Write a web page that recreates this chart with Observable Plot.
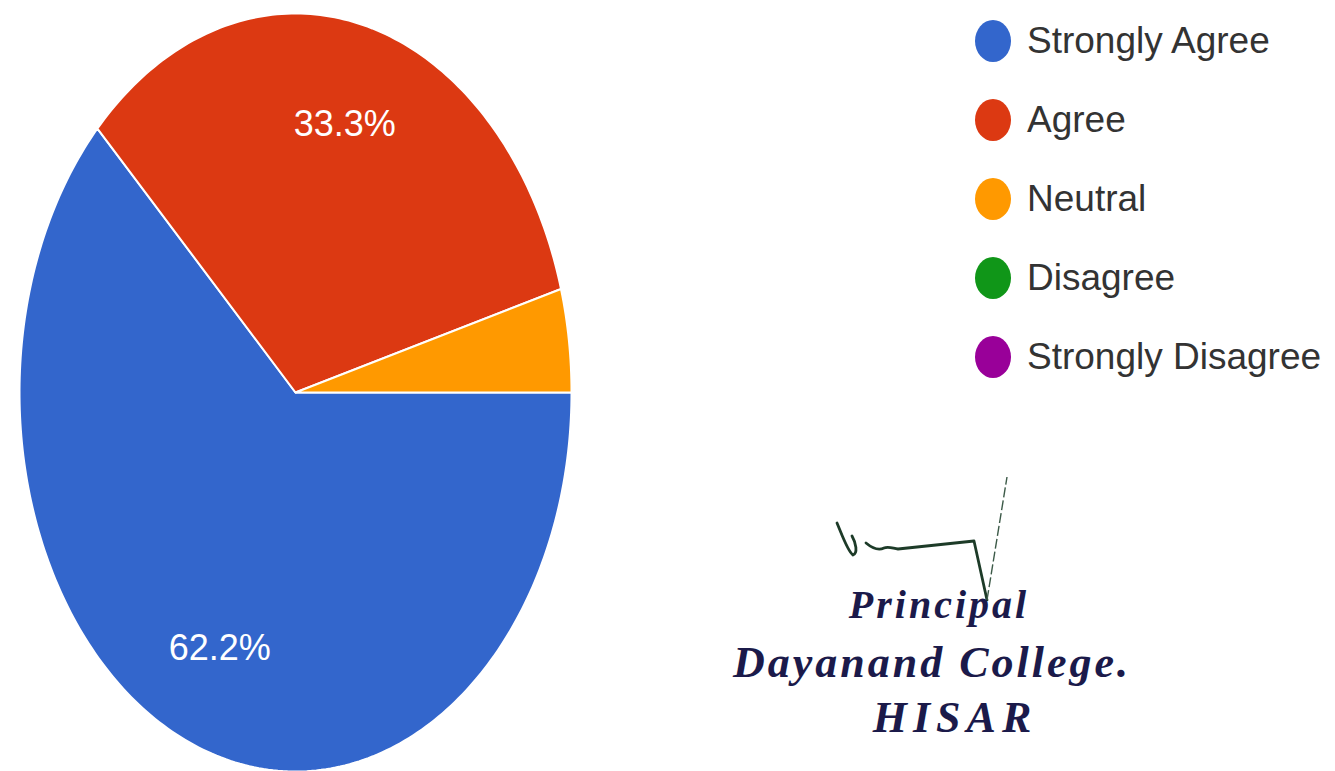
<!DOCTYPE html>
<html><head><meta charset="utf-8">
<script src="https://cdn.jsdelivr.net/npm/d3@7"></script>
<script src="https://cdn.jsdelivr.net/npm/@observablehq/plot@0.6"></script>
<style>
html,body{margin:0;padding:0;background:#fff;}
#wrap{position:relative;width:1335px;height:771px;overflow:hidden;background:#fff;}
#chart{position:absolute;left:0;top:0;}
.item{position:absolute;left:975px;display:flex;align-items:center;height:50px;}
.sw{width:36px;height:42px;border-radius:50%;flex:none;}
.lab{margin-left:16px;font-family:"Liberation Sans",Arial,sans-serif;font-size:37px;color:#333;white-space:nowrap;}
#sig{position:absolute;left:0;top:0;pointer-events:none;}
</style></head>
<body>
<div id="wrap"><div id="chart"></div><div id="legend"></div>
<svg id="sig" width="1335" height="771">
  <path d="M837,523 C842,535 848,552 853,555 C858,553 856,543 852,536 M866,543 C872,548 878,551 884,548 C888,546 892,548 898,549 L974,541 L987,600" fill="none" stroke="#1d3b28" stroke-width="2.8" stroke-linejoin="round" stroke-linecap="round"/>
  <path d="M987,600 L1007,477" fill="none" stroke="#3c5a48" stroke-width="1.4" stroke-dasharray="10 3"/>
  <g font-family="'Liberation Serif','DejaVu Serif',serif" font-style="italic" font-weight="bold" fill="#1b1a4a" text-anchor="middle">
    <text x="939" y="618" font-size="40" letter-spacing="3">Principal</text>
    <text x="932" y="677" font-size="44" letter-spacing="3">Dayanand  College.</text>
    <text x="955" y="732" font-size="44" letter-spacing="6">HISAR</text>
  </g>
</svg>
</div>
<script>
const categories = ["Strongly Agree", "Agree", "Neutral", "Disagree", "Strongly Disagree"];
const percents = [62.2, 33.3, 4.4, 0, 0];
const colors = ["#3366cc", "#dc3912", "#ff9900", "#109618", "#990099"];

const table = categories.map((c, i) => ({category: c, value: percents[i]}));
const pie = d3.pie().sort(null).value(d => d.value)
  .startAngle(Math.PI / 2).endAngle(Math.PI / 2 + 2 * Math.PI);
const arcs = pie(table).filter(a => a.endAngle > a.startAngle);

const pts = [];
arcs.forEach(a => {
  const c = a.data.category;
  pts.push({category: c, x: 0, y: 0});
  const n = Math.max(2, Math.ceil((a.endAngle - a.startAngle) / (Math.PI / 180)));
  for (let k = 0; k <= n; k++) {
    const t = a.startAngle + (a.endAngle - a.startAngle) * k / n;
    pts.push({category: c, x: Math.sin(t), y: Math.cos(t)});
  }
});

const labelRadius = 0.73;
const labels = arcs.filter(a => a.data.value >= 5).map(a => {
  const m = (a.startAngle + a.endAngle) / 2;
  return {x: labelRadius * Math.sin(m), y: labelRadius * Math.cos(m), text: a.data.value.toFixed(1) + "%"};
});

const chart = Plot.plot({
  width: 1335, height: 771, margin: 0,
  x: {domain: [-1, 1], range: [19, 571], axis: null},
  y: {domain: [-1, 1], range: [771, 13], axis: null},
  color: {domain: categories, range: colors},
  style: {background: "transparent", overflow: "visible"},
  marks: [
    Plot.line(pts, {x: "x", y: "y", z: "category", fill: "category", stroke: "white", strokeWidth: 2, curve: "linear-closed"}),
    Plot.text(labels, {x: "x", y: "y", text: "text", fill: "white", fontSize: 36, fontFamily: "'Liberation Sans', Arial, sans-serif"})
  ]
});
document.getElementById("chart").appendChild(chart);

const leg = document.getElementById("legend");
categories.forEach((c, i) => {
  const it = document.createElement("div");
  it.className = "item";
  it.style.top = (41 + 79 * i - 25) + "px";
  const sw = document.createElement("div");
  sw.className = "sw";
  sw.style.background = colors[i];
  const lb = document.createElement("div");
  lb.className = "lab";
  lb.textContent = c;
  it.appendChild(sw); it.appendChild(lb);
  leg.appendChild(it);
});
</script>
</body></html>
